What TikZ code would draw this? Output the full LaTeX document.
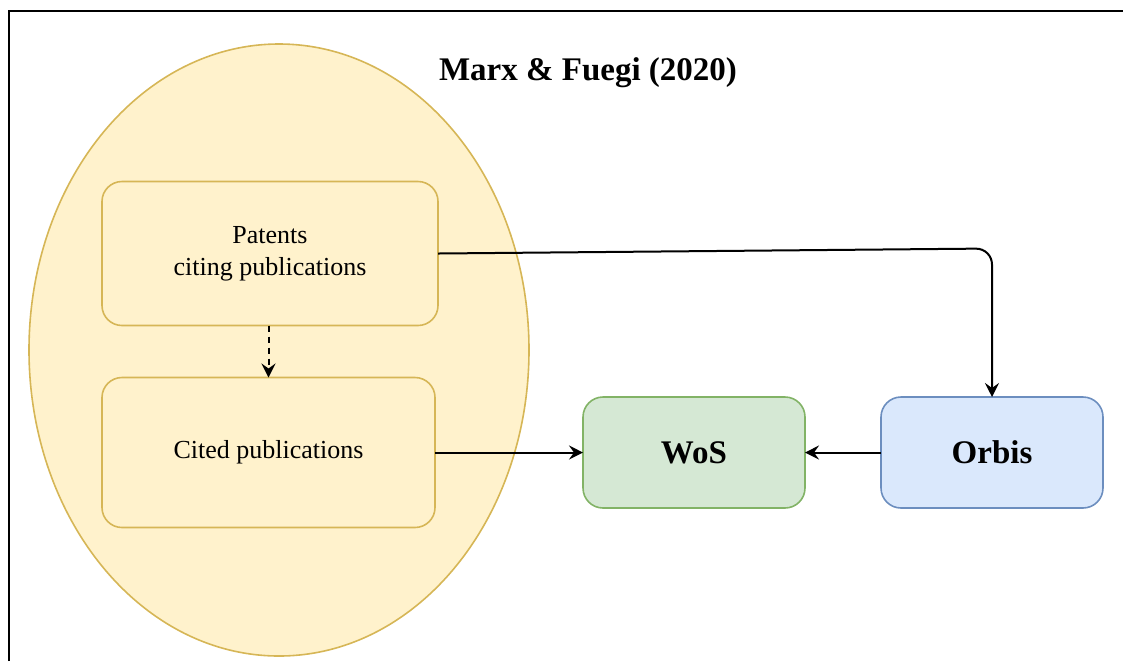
\documentclass[tikz,border=0pt]{standalone}
\usepackage{fontspec}
\setmainfont{Liberation Serif}
\usetikzlibrary{positioning,calc,arrows.meta,shapes.geometric}
\definecolor{yfill}{HTML}{FFF2CC}
\definecolor{ybord}{HTML}{D6B656}
\definecolor{gfill}{HTML}{D5E8D4}
\definecolor{gbord}{HTML}{82B366}
\definecolor{bfill}{HTML}{DAE8FC}
\definecolor{bbord}{HTML}{6C8EBF}

\begin{document}
\begin{tikzpicture}[
  x=0.5pt,
  y=-0.5pt,
  box/.style={draw, rounded corners=10pt, line width=0.8pt, align=center, inner sep=0pt, outer sep=0pt},
  source/.style={box, draw=ybord, fill=yfill, minimum width=168pt, minimum height=72pt,
    font=\fontsize{13}{16}\selectfont},
  db/.style={box, minimum width=111pt, minimum height=55.5pt,
    font=\fontsize{16.5}{20}\selectfont\bfseries},
  link/.style={draw, line width=1pt, -{Stealth[length=7pt,width=7pt,inset=2.5pt]}},
  ]
  \useasboundingbox (0,0) rectangle (1123,661);
  \draw [line width=1.1pt] (9,661) -- (9,11) -- (1123,11);

  \node [ellipse, draw=ybord, fill=yfill, line width=0.8pt, inner sep=0pt,
    minimum width=250pt, minimum height=306pt] (dataset) at (279,350) {};
  \node [font=\fontsize{16.5}{20}\selectfont\bfseries] (title) at (588,73) {Marx \& Fuegi (2020)};

  \node [source] (patents) at (270,253.5) {Patents\\citing publications};
  \node [source, minimum width=166.5pt, minimum height=75pt,
    below=26pt of patents.south west, anchor=north west] (cited) {Cited publications};
  \node [db, draw=gbord, fill=gfill, right=74pt of cited] (wos) {WoS};
  \node [db, draw=bbord, fill=bfill, right=38pt of wos] (orbis) {Orbis};

  \coordinate (turn-level) at (0,248.5);
  \draw [link, rounded corners=8pt] (patents.east) -- (orbis.north |- turn-level) -- (orbis.north);
  \draw [link, dash pattern=on 3pt off 2.5pt] (patents.south -| cited.north) -- (cited.north);
  \draw [link] (cited) -- (wos);
  \draw [link] (orbis) -- (wos);
\end{tikzpicture}
\end{document}
